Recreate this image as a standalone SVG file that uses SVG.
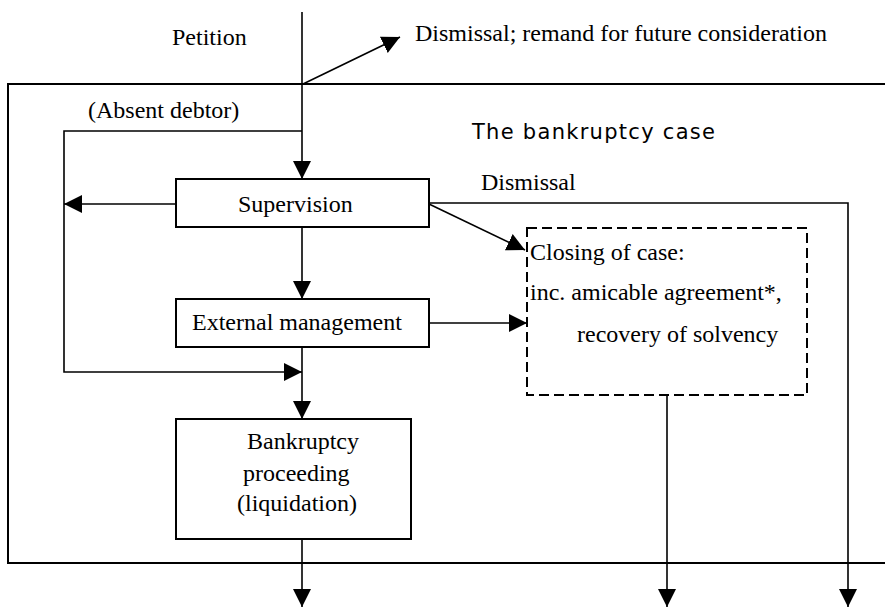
<svg xmlns="http://www.w3.org/2000/svg" width="885" height="610" viewBox="0 0 885 610">
<style>
.t{font-family:"Liberation Serif","Times New Roman",serif;font-size:24px;fill:#000}
.s{font-family:"DejaVu Sans","Liberation Sans",sans-serif;font-size:21px;fill:#000}
.box{fill:#fff;stroke:#000;stroke-width:2}
.ln{fill:none;stroke:#000;stroke-width:1.6}
.dash{fill:none;stroke:#000;stroke-width:2;stroke-dasharray:10,5}
</style>
<defs>
<marker id="ah" markerUnits="userSpaceOnUse" viewBox="0 0 18 18" markerWidth="18" markerHeight="18" refX="18" refY="9" orient="auto">
<path d="M0,0 L18,9 L0,18 z" fill="#000"/>
</marker>
</defs>
<rect id="case" x="8" y="84" width="890" height="479" fill="none" stroke="#000" stroke-width="2"/>
<text class="s" x="472" y="139" textLength="243" lengthAdjust="spacing">The bankruptcy case</text>
<g id="connectors">
<line class="ln" x1="302" y1="12" x2="302" y2="179" marker-end="url(#ah)"/>
<line class="ln" x1="303" y1="84" x2="400" y2="37" marker-end="url(#ah)"/>
<polyline class="ln" points="302,131 64,131 64,372 302,372" marker-end="url(#ah)"/>
<line class="ln" x1="176" y1="204" x2="64" y2="204" marker-end="url(#ah)"/>
<line class="ln" x1="302" y1="227" x2="302" y2="299" marker-end="url(#ah)"/>
<line class="ln" x1="302" y1="347" x2="302" y2="419" marker-end="url(#ah)"/>
<line class="ln" x1="302" y1="539" x2="302" y2="607" marker-end="url(#ah)"/>
<polyline class="ln" points="429,203 848,203 848,607" marker-end="url(#ah)"/>
<line class="ln" x1="429" y1="204" x2="525" y2="250" marker-end="url(#ah)"/>
<line class="ln" x1="429" y1="323" x2="527" y2="323" marker-end="url(#ah)"/>
<line class="ln" x1="667" y1="395" x2="667" y2="607" marker-end="url(#ah)"/>
</g>
<text class="t" x="172" y="45">Petition</text>
<text class="t" x="415" y="41">Dismissal; remand for future consideration</text>
<text class="t" x="88" y="118">(Absent debtor)</text>
<text class="t" x="481" y="190">Dismissal</text>
<g id="supervision">
<rect class="box" x="176" y="179" width="253" height="48"/>
<text class="t" x="238" y="212">Supervision</text>
</g>
<g id="external">
<rect class="box" x="176" y="299" width="253" height="48"/>
<text class="t" x="192" y="330">External management</text>
</g>
<g id="bankruptcy">
<rect class="box" x="176" y="419" width="235" height="120"/>
<text class="t" x="247" y="449">Bankruptcy</text>
<text class="t" x="243" y="481">proceeding</text>
<text class="t" x="237" y="511">(liquidation)</text>
</g>
<g id="closing">
<rect class="dash" x="527" y="228" width="280" height="167"/>
<text class="t" x="530" y="260">Closing of case:</text>
<text class="t" x="530" y="300">inc. amicable agreement*,</text>
<text class="t" x="577" y="342">recovery of solvency</text>
</g>
</svg>
